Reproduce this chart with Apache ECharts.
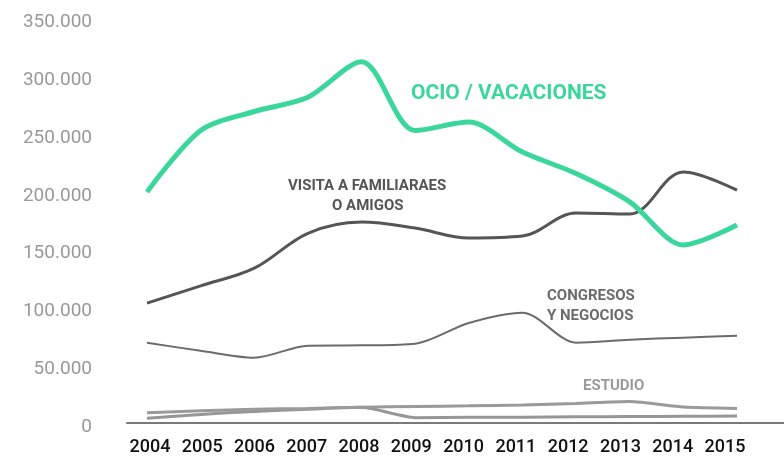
<!DOCTYPE html>
<html>
<head>
<meta charset="utf-8">
<script src="https://cdn.jsdelivr.net/npm/echarts@6/dist/echarts.min.js"></script>
<style>
    html, body {margin: 0; padding: 0; background: #fff;}
    #divChart {width: 784px; height: 456px;}
</style>
</head>
<body>
<div id="divChart"></div>
<script>
// datos
var years = [2004, 2005, 2006, 2007, 2008, 2009, 2010, 2011, 2012, 2013, 2014, 2015];
var ocio = [203400, 256600, 273000, 285300, 316000, 256500, 263800, 237900, 219300, 194800, 157500, 174700];
var visita = [107200, 122100, 137400, 167600, 177300, 172100, 163500, 165200, 185100, 184200, 220700, 204900];
var congresos = [72800, 66000, 60000, 70400, 70700, 72100, 90000, 98900, 73000, 75600, 77300, 79000];
var estudio = [12400, 14000, 15300, 16100, 17000, 17800, 18300, 19100, 20400, 22000, 17200, 16100];
var otros = [7500, 10900, 13500, 15300, 17000, 8100, 8400, 8500, 8800, 9000, 9200, 9500];

function pairs(values) {
    return years.map(function (y, i) {
        return [y, values[i]];
    });
}

function fmtMiles(v) {
    if (v === 0) return '0';
    return String(v).replace(/\B(?=(\d{3})+(?!\d))/g, '.');
}

var myChart = echarts.init(document.getElementById('divChart'));

var option = {
    animation: false,
    textStyle: {fontFamily: 'Roboto'},
    grid: {left: 127, right: 0, top: 22.5, bottom: 27},
    xAxis: [{
        // eje de los datos
        type: 'value',
        min: 2003.627,
        max: 2015.876,
        offset: -4,
        splitLine: {show: false},
        axisTick: {show: false},
        axisLabel: {show: false},
        axisLine: {show: true, lineStyle: {color: '#7a7a7a', width: 2}}
    }, {
        // eje de las etiquetas
        type: 'value',
        position: 'bottom',
        min: 2003.56,
        max: 2016.13,
        splitLine: {show: false},
        axisTick: {show: false},
        axisLine: {show: false},
        axisLabel: {
            customValues: years,
            margin: 11,
            color: '#111',
            fontSize: 18,
            fontWeight: 500,
            formatter: function (v) { return String(v); }
        }
    }],
    yAxis: {
        type: 'value',
        min: 0,
        max: 350000,
        interval: 50000,
        splitLine: {show: false},
        axisLine: {show: false},
        axisTick: {show: false},
        axisLabel: {
            margin: 35,
            color: '#999',
            fontSize: 19,
            formatter: fmtMiles
        }
    },
    graphic: [
        {type: 'text', left: 411, top: 83, style: {text: 'OCIO / VACACIONES', fill: '#3ad69b', font: 'bold 21px Roboto'}},
        {type: 'text', left: 288, top: 179, style: {text: 'VISITA A FAMILIARAES', fill: '#555', font: 'bold 15px Roboto'}},
        {type: 'text', left: 332, top: 199, style: {text: 'O AMIGOS', fill: '#555', font: 'bold 15px Roboto'}},
        {type: 'text', left: 547, top: 289, style: {text: 'CONGRESOS', fill: '#6b6b6b', font: 'bold 15px Roboto'}},
        {type: 'text', left: 547, top: 309, style: {text: 'Y NEGOCIOS', fill: '#6b6b6b', font: 'bold 15px Roboto'}},
        {type: 'text', left: 583, top: 379, style: {text: 'ESTUDIO', fill: '#9a9a9a', font: 'bold 15px Roboto'}}
    ],
    series: [{
        name: 'Otros',
        type: 'line',
        xAxisIndex: 0,
        smooth: 0.2,
        showSymbol: false,
        lineStyle: {color: '#969696', width: 3},
        data: pairs(otros)
    }, {
        name: 'Estudio',
        type: 'line',
        xAxisIndex: 0,
        smooth: 0.2,
        showSymbol: false,
        lineStyle: {color: '#9a9a9a', width: 3},
        data: pairs(estudio)
    }, {
        name: 'Congresos y negocios',
        type: 'line',
        xAxisIndex: 0,
        smooth: 0.3,
        showSymbol: false,
        lineStyle: {color: '#6b6b6b', width: 2},
        data: pairs(congresos)
    }, {
        name: 'Visita a familiares o amigos',
        type: 'line',
        xAxisIndex: 0,
        smooth: 0.35,
        showSymbol: false,
        lineStyle: {color: '#555', width: 3},
        data: pairs(visita)
    }, {
        name: 'Ocio / vacaciones',
        type: 'line',
        xAxisIndex: 0,
        smooth: 0.3,
        showSymbol: false,
        lineStyle: {color: '#3ad69b', width: 5},
        data: pairs(ocio)
    }]
};
myChart.setOption(option);
</script>
</body>
</html>
